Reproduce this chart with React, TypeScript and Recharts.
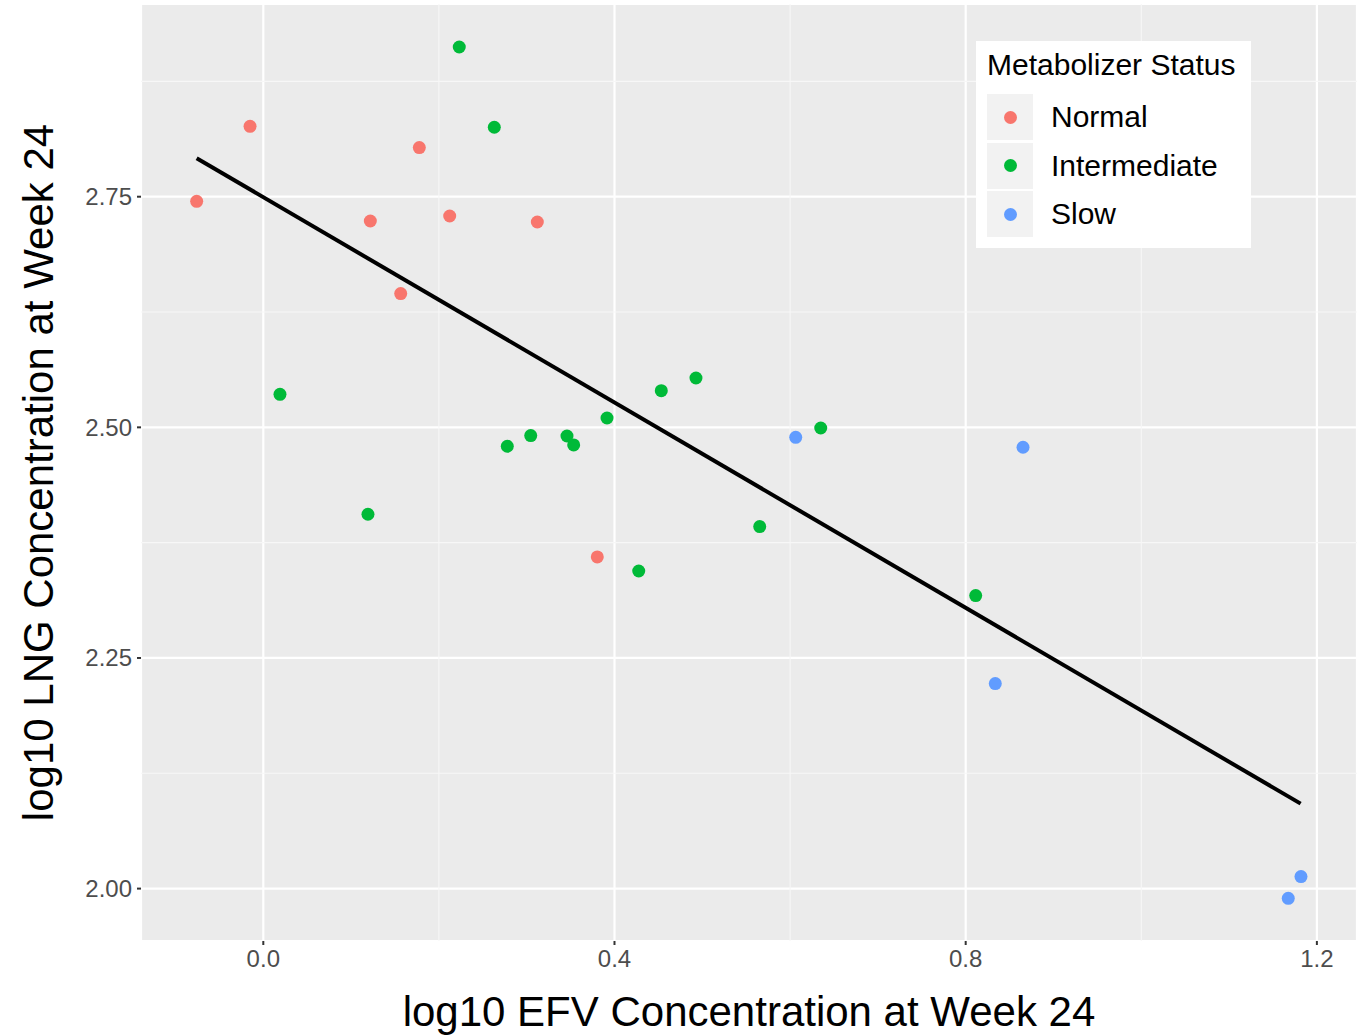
import {
  ScatterChart, Scatter, XAxis, YAxis, CartesianGrid, ReferenceLine, Label,
} from 'recharts'

// log10 EFV (x) vs log10 LNG (y), week 24
const normalX = [-0.0759, -0.0151, 0.1777, 0.1219, 0.2123, 0.3121, 0.1565, 0.3804]
const normalY = [2.745, 2.8263, 2.8033, 2.7237, 2.7291, 2.7226, 2.645, 2.3595]

const intermediateX = [0.2232, 0.2631, 0.019, 0.1192, 0.2779, 0.3046, 0.3459, 0.3535, 0.3915, 0.4533, 0.4928, 0.6349, 0.5654, 0.4276, 0.8114]
const intermediateY = [2.9123, 2.8253, 2.5358, 2.4058, 2.4795, 2.4911, 2.4906, 2.4809, 2.5101, 2.5398, 2.5535, 2.4993, 2.3924, 2.3443, 2.3176]

const slowX = [0.6064, 0.8653, 0.8337, 1.1674, 1.1819]
const slowY = [2.4892, 2.4784, 2.2222, 1.9895, 2.013]

// fitted line end points
const fitX = [-0.0759, 1.1815]
const fitY = [2.7917, 2.0921]

const xTicks = [0, 0.4, 0.8, 1.2]
const yTicks = [2.0, 2.25, 2.5, 2.75]
const xMinor = [0.2, 0.6, 1.0]
const yMinor = [2.125, 2.375, 2.625, 2.875]

const xDomain = [-0.1393, 1.2457]
const yDomain = [1.9432, 2.9589]

const zip = (xs: number[], ys: number[]) => xs.map((x, i) => ({ x, y: ys[i] }))

const SERIES = [
  { name: 'Normal', color: '#F8766D', data: zip(normalX, normalY) },
  { name: 'Intermediate', color: '#00BA38', data: zip(intermediateX, intermediateY) },
  { name: 'Slow', color: '#619CFF', data: zip(slowX, slowY) },
]

const FONT = '"Liberation Sans", Arial, sans-serif'
const tickStyle = { fontSize: 24, fill: '#4D4D4D', fontFamily: FONT }

const dot = (color: string) => (p: any) => <circle cx={p.cx} cy={p.cy} r={6.5} fill={color} />

const XTitle = ({ viewBox }: any) => (
  <text x={viewBox.x + viewBox.width / 2} y={1026} textAnchor="middle" fontSize={42} fontFamily={FONT} fill="#000">
    log10 EFV Concentration at Week 24
  </text>
)

const YTitle = ({ viewBox }: any) => {
  const cy = viewBox.y + viewBox.height / 2
  return (
    <text x={53} y={cy} transform={`rotate(-90, 53, ${cy})`} textAnchor="middle" fontSize={42} fontFamily={FONT} fill="#000">
      log10 LNG Concentration at Week 24
    </text>
  )
}

function LegendBox() {
  return (
    <div style={{
      position: 'absolute', left: 976, top: 41, width: 275, height: 207,
      background: '#fff', fontFamily: FONT, color: '#000',
    }}>
      <div style={{ position: 'absolute', left: 11, top: 6, fontSize: 30, lineHeight: '36px', whiteSpace: 'nowrap' }}>
        Metabolizer Status
      </div>
      {SERIES.map((s, i) => (
        <div key={s.name} style={{ position: 'absolute', left: 11, top: 53 + i * 48.5, height: 46, display: 'flex', alignItems: 'center' }}>
          <div style={{ width: 46, height: 46, background: '#F2F2F2', display: 'flex', alignItems: 'center', justifyContent: 'center' }}>
            <div style={{ width: 13, height: 13, borderRadius: '50%', background: s.color }} />
          </div>
          <span style={{ marginLeft: 18, fontSize: 30, whiteSpace: 'nowrap' }}>{s.name}</span>
        </div>
      ))}
    </div>
  )
}

export default function App() {
  return (
    <div style={{ position: 'absolute', left: 0, top: 0, width: 1363, height: 1035, background: '#fff' }}>
      <ScatterChart width={1363} height={1035} margin={{ top: 4, right: 6, bottom: 0, left: 0 }}>
        <CartesianGrid fill="#EBEBEB" fillOpacity={1} stroke="#fff" strokeWidth={2.2} />
        {xMinor.map((v) => (
          <ReferenceLine key={'x' + v} x={v} stroke="#F7F7F7" strokeWidth={1.1} />
        ))}
        {yMinor.map((v) => (
          <ReferenceLine key={'y' + v} y={v} stroke="#F7F7F7" strokeWidth={1.1} />
        ))}
        <XAxis
          type="number"
          dataKey="x"
          domain={xDomain}
          ticks={xTicks}
          allowDataOverflow
          tickFormatter={(v: number) => v.toFixed(1)}
          tick={tickStyle}
          tickSize={4}
          tickMargin={5}
          axisLine={false}
          tickLine={{ stroke: '#333', strokeWidth: 2 }}
          height={94}
        >
          <Label content={XTitle} />
        </XAxis>
        <YAxis
          type="number"
          dataKey="y"
          domain={yDomain}
          ticks={yTicks}
          allowDataOverflow
          tickFormatter={(v: number) => v.toFixed(2)}
          tick={tickStyle}
          tickSize={4}
          tickMargin={5}
          axisLine={false}
          tickLine={{ stroke: '#333', strokeWidth: 2 }}
          width={141}
        >
          <Label content={YTitle} />
        </YAxis>
        {SERIES.map((s) => (
          <Scatter key={s.name} name={s.name} data={s.data} fill={s.color} shape={dot(s.color)} isAnimationActive={false} />
        ))}
        <ReferenceLine
          segment={[{ x: fitX[0], y: fitY[0] }, { x: fitX[1], y: fitY[1] }]}
          stroke="#000"
          strokeWidth={4}
          ifOverflow="visible"
        />
      </ScatterChart>
      <LegendBox />
    </div>
  )
}
